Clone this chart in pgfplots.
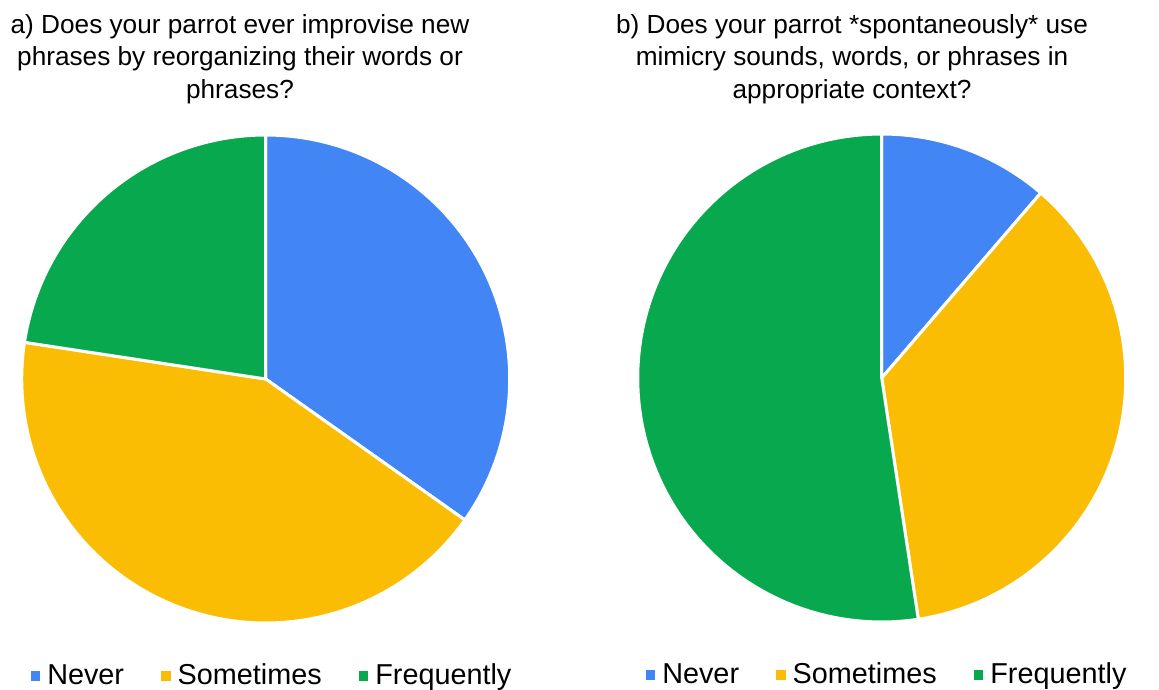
\documentclass[border=0pt]{standalone}
\usepackage{pgfplots}
\usepackage{pgfplotstable}
\pgfplotsset{compat=1.18}
\usepackage{fontspec}
\setmainfont{Liberation Sans}
\definecolor{cNever}{HTML}{4285F4}
\definecolor{cSome}{HTML}{FBBC04}
\definecolor{cFreq}{HTML}{08A94E}

% percentages
\pgfplotstableread{
cat value
Never 34.8
Sometimes 42.6
Frequently 22.6
}\dataA
\pgfplotstableread{
cat value
Never 11.3
Sometimes 36.3
Frequently 52.4
}\dataB

\newcommand{\getvals}[1]{%
  \pgfplotstablegetelem{0}{value}\of#1\pgfmathsetmacro{\vN}{\pgfplotsretval}%
  \pgfplotstablegetelem{1}{value}\of#1\pgfmathsetmacro{\vS}{\pgfplotsretval}%
  \pgfplotstablegetelem{2}{value}\of#1\pgfmathsetmacro{\vF}{\pgfplotsretval}%
  \pgfmathsetmacro{\tot}{\vN+\vS+\vF}%
  \pgfmathsetmacro{\aA}{90}%
  \pgfmathsetmacro{\aB}{90-\vN/\tot*360}%
  \pgfmathsetmacro{\aC}{90-(\vN+\vS)/\tot*360}%
  \pgfmathsetmacro{\aD}{-270}%
}

\pgfplotsset{
  piestyle/.style={
    x=122pt, y=122pt,
    xmin=-1, xmax=1, ymin=-1, ymax=1,
    hide axis, anchor=center, clip=false,
    legend columns=3,
    legend style={draw=none, fill=none, inner sep=0pt, anchor=center,
      font=\fontsize{14.4}{16}\selectfont,
      /tikz/every odd column/.style={column sep=1.5pt},
      /tikz/every even column/.style={column sep=16.5pt}},
    legend image code/.code={\path[##1, draw=none] (0pt,-2.4pt) rectangle (4.8pt,2.4pt);},
  },
  wedge/.style={draw=white, line width=1.5pt, samples=90, fill=#1},
}

\begin{document}
\begin{tikzpicture}
\useasboundingbox (0,0) rectangle (579.5pt,-344.5pt);

\node[align=center, anchor=north, inner sep=0pt, font=\fontsize{13.1}{16.2}\selectfont]
  at (120pt,-7pt) {a) Does your parrot ever improvise new\\phrases by reorganizing their words or\\phrases?};
\node[align=center, anchor=north, inner sep=0pt, font=\fontsize{13.1}{16.2}\selectfont]
  at (426pt,-7pt) {b) Does your parrot *spontaneously* use\\mimicry sounds, words, or phrases in\\appropriate context?};

\getvals{\dataA}
\begin{axis}[piestyle, at={(132.85pt,-189.5pt)},
  legend style={at={(0.515,-0.108)}}]
\addplot[wedge=cNever, domain=\aB:\aA] ({cos(x)},{sin(x)}) -- (axis cs:0,0) -- cycle;
\addlegendentry{Never}
\addplot[wedge=cSome, domain=\aC:\aB] ({cos(x)},{sin(x)}) -- (axis cs:0,0) -- cycle;
\addlegendentry{Sometimes}
\addplot[wedge=cFreq, domain=\aD:\aC] ({cos(x)},{sin(x)}) -- (axis cs:0,0) -- cycle;
\addlegendentry{Frequently}
\end{axis}

\getvals{\dataB}
\begin{axis}[piestyle, at={(440.85pt,-189pt)},
  legend style={at={(0.513,-0.108)}}]
\addplot[wedge=cNever, domain=\aB:\aA] ({cos(x)},{sin(x)}) -- (axis cs:0,0) -- cycle;
\addlegendentry{Never}
\addplot[wedge=cSome, domain=\aC:\aB] ({cos(x)},{sin(x)}) -- (axis cs:0,0) -- cycle;
\addlegendentry{Sometimes}
\addplot[wedge=cFreq, domain=\aD:\aC] ({cos(x)},{sin(x)}) -- (axis cs:0,0) -- cycle;
\addlegendentry{Frequently}
\end{axis}
\end{tikzpicture}
\end{document}
